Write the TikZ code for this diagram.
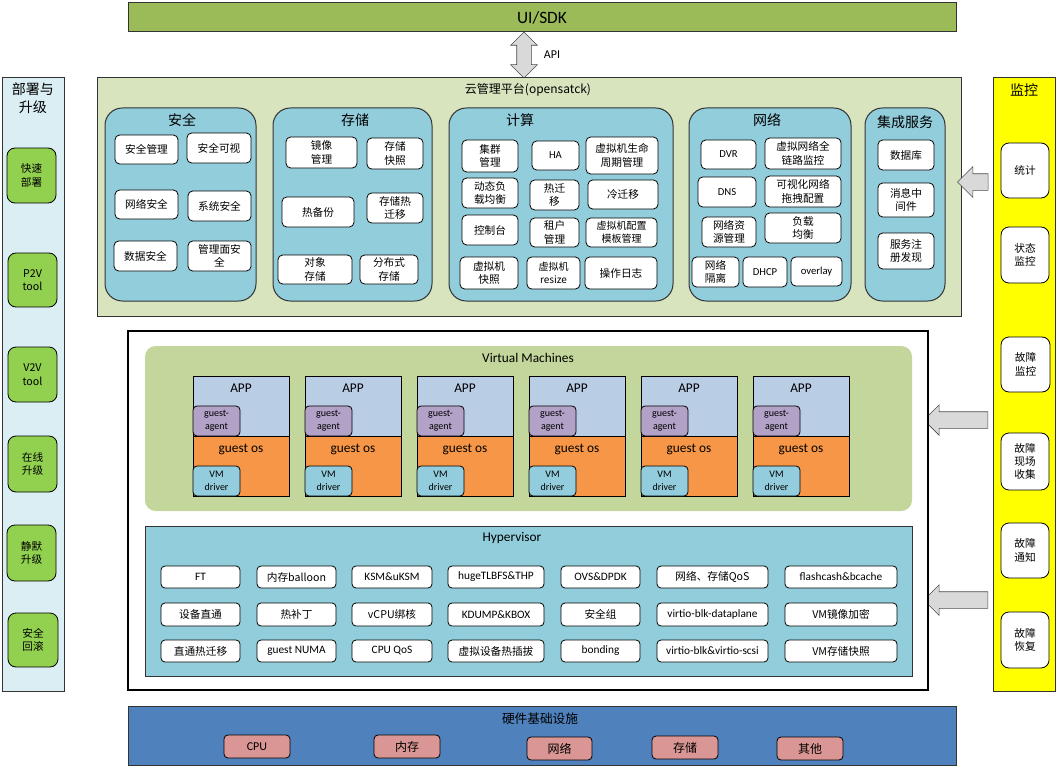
\documentclass[tikz,border=0pt]{standalone}
\usepackage{fontspec}
\setmainfont{Noto Sans CJK SC}
\newfontfamily\lat{Carlito}
\newcommand{\latb}{\lat\fontsize{8.5}{10}\selectfont}
\definecolor{uigreen}{HTML}{9BBB59}
\definecolor{cloudbg}{HTML}{D7E4BD}
\definecolor{grpblue}{HTML}{92CDDC}
\definecolor{deploybg}{HTML}{DAEEF3}
\definecolor{btngreen}{HTML}{92D050}
\definecolor{monyellow}{HTML}{FFFF00}
\definecolor{vmbg}{HTML}{C3D69B}
\definecolor{appblue}{HTML}{B9CDE5}
\definecolor{osorange}{HTML}{F79646}
\definecolor{agentpurple}{HTML}{B3A2C7}
\definecolor{drvblue}{HTML}{93CDDD}
\definecolor{hwblue}{HTML}{4F81BD}
\definecolor{hwpink}{HTML}{D99694}
\definecolor{arrgray}{HTML}{D9D9D9}
\usepackage{tikz}
\usetikzlibrary{positioning, shapes.arrows}
% box from corner (x1,y1) to corner (x2,y2), pixel units
\newcommand{\boxnode}[7]{\node[#1, minimum width={(#4-#2)*0.75pt}, minimum height={(#5-#3)*0.75pt}] (#6) at ({(#2+#4)/2},{(#3+#5)/2}) {#7};}

\begin{document}
\begin{tikzpicture}[x=0.75pt, y=-0.75pt, every node/.style={align=center, inner sep=1pt},
    panel/.style={draw=black!80, line width=0.75pt},
    grp/.style={draw=black!80, line width=0.75pt, fill=grpblue, rounded corners=13pt},
    item/.style={draw=black, line width=0.6pt, fill=white, rounded corners=3.5pt, font=\fontsize{8}{10}\selectfont},
    btn/.style={draw=black, line width=0.6pt, fill=btngreen, rounded corners=6pt, font=\fontsize{8}{10}\selectfont},
    monitem/.style={draw=black, line width=0.6pt, fill=white, rounded corners=6pt, font=\fontsize{8}{10}\selectfont},
    hwitem/.style={draw=black, line width=0.6pt, fill=hwpink, rounded corners=3pt, font=\fontsize{9}{11}\selectfont},
    ttl/.style={font=\fontsize{10.5}{13}\selectfont},
    vmpart/.style={draw=black, line width=0.6pt},
    vmsmall/.style={draw=black, line width=0.6pt, rounded corners=3pt, font=\lat\fontsize{7.5}{10}\selectfont},
    vmlabel/.style={font=\lat\fontsize{10}{12}\selectfont},
    hypitem/.style={draw=black, line width=0.6pt, fill=white, rounded corners=3pt, font=\fontsize{8}{9}\selectfont},
    sarr/.style={single arrow, shape border rotate=180, draw=black!70, fill=arrgray, inner xsep=0pt, inner ysep=6pt, single arrow head extend=5.25pt},
    darr/.style={double arrow, rotate=90, draw=black!70, fill=arrgray, inner xsep=0pt, inner ysep=5.25pt, double arrow head extend=4.5pt}]
\useasboundingbox (0,0) rectangle (1057,767);

% top: UI/SDK and API
\boxnode{panel, fill=uigreen, font=\lat\fontsize{13}{15}\selectfont}{128}{3}{956}{32}{ui}{UI/SDK}
\node[darr, minimum height=34.5pt] (api) at (524,55) {};
\node[font=\lat\fontsize{9}{11}\selectfont] (apit) at (552,55) {API};

% cloud management platform
\boxnode{panel, fill=cloudbg}{97}{78}{961}{316}{cloud}{}
\node[font=\fontsize{9}{11}\selectfont] (cloudt) at (528,90) {云管理平台(opensatck)};

\boxnode{grp}{105}{108}{256}{301}{sec}{}
\node[ttl] (sect) at (182,120) {安全};
\boxnode{item}{115}{135}{178}{164}{sec1}{安全管理}
\boxnode{item}{187}{133}{251}{163}{sec2}{安全可视}
\boxnode{item}{115}{190}{178}{219}{sec3}{网络安全}
\boxnode{item}{188}{191}{251}{221}{sec4}{系统安全}
\boxnode{item}{114}{241}{177}{271}{sec5}{数据安全}
\boxnode{item}{188}{241}{251}{271}{sec6}{管理面安\\全}

\boxnode{grp}{273}{108}{432}{301}{sto}{}
\node[ttl] (stot) at (355,120) {存储};
\boxnode{item}{286}{137}{357}{168}{sto1}{镜像\\管理}
\boxnode{item}{367}{138}{423}{169}{sto2}{存储\\快照}
\boxnode{item}{282}{197}{354}{227}{sto3}{热备份}
\boxnode{item}{367}{193}{423}{223}{sto4}{存储热\\迁移}
\boxnode{item}{278}{255}{352}{284}{sto5}{对象\\存储}
\boxnode{item}{360}{255}{418}{284}{sto6}{分布式\\存储}

\boxnode{grp}{449}{108}{673}{301}{cmp}{}
\node[ttl] (cmpt) at (520,120) {计算};
\boxnode{item}{462}{140}{518}{172}{cmp1}{集群\\管理}
\boxnode{item}{532}{141}{579}{170}{cmp2}{\lat HA}
\boxnode{item}{586}{137}{658}{174}{cmp3}{虚拟机生命\\周期管理}
\boxnode{item}{462}{178}{518}{208}{cmp4}{动态负\\载均衡}
\boxnode{item}{530}{180}{579}{210}{cmp5}{热迁\\移}
\boxnode{item}{588}{180}{658}{209}{cmp6}{冷迁移}
\boxnode{item}{462}{215}{518}{245}{cmp7}{控制台}
\boxnode{item}{530}{218}{579}{247}{cmp8}{租户\\管理}
\boxnode{item, font=\fontsize{7.5}{10}\selectfont}{586}{218}{657}{247}{cmp9}{虚拟机配置\\模板管理}
\boxnode{item}{460}{257}{518}{289}{cmp10}{虚拟机\\快照}
\boxnode{item, font=\fontsize{7.5}{10}\selectfont}{527}{257}{580}{289}{cmp11}{虚拟机\\resize}
\boxnode{item}{585}{257}{657}{289}{cmp12}{操作日志}

\boxnode{grp}{689}{108}{851}{301}{net}{}
\node[ttl] (nett) at (767,120) {网络};
\boxnode{item}{701}{140}{756}{169}{net1}{\lat DVR}
\boxnode{item}{765}{138}{841}{169}{net2}{虚拟网络全\\链路监控}
\boxnode{item}{698}{177}{756}{207}{net3}{\lat DNS}
\boxnode{item}{765}{176}{841}{207}{net4}{可视化网络\\拖拽配置}
\boxnode{item}{702}{217}{756}{247}{net5}{网络资\\源管理}
\boxnode{item}{765}{213}{841}{243}{net6}{负载\\均衡}
\boxnode{item}{692}{257}{739}{287}{net7}{网络\\隔离}
\boxnode{item}{743}{257}{787}{287}{net8}{\lat DHCP}
\boxnode{item}{791}{257}{842}{286}{net9}{\lat overlay}

\boxnode{grp}{865}{108}{945}{301}{int}{}
\node[ttl] (intt) at (905,122) {集成服务};
\boxnode{item}{878}{140}{934}{170}{int1}{数据库}
\boxnode{item}{878}{183}{934}{217}{int2}{消息中\\间件}
\boxnode{item}{878}{233}{934}{269}{int3}{服务注\\册发现}

% deploy and upgrade
\boxnode{panel, fill=deploybg}{2}{78}{64}{691}{deploy}{}
\node[ttl] (deployt) at (33,98) {部署与\\升级};
\boxnode{btn}{7}{148}{56}{203}{dep1}{快速\\部署}
\boxnode{btn}{8}{253}{57}{307}{dep2}{P2V\\tool}
\boxnode{btn}{8}{347}{57}{402}{dep3}{V2V\\tool}
\boxnode{btn}{8}{436}{57}{492}{dep4}{在线\\升级}
\boxnode{btn}{7}{525}{56}{581}{dep5}{静默\\升级}
\boxnode{btn}{8}{613}{58}{667}{dep6}{安全\\回滚}

% monitoring
\boxnode{panel, fill=monyellow}{993}{78}{1055}{691}{mon}{}
\node[ttl] (mont) at (1024,90) {监控};
\boxnode{monitem}{1001}{143}{1049}{198}{mon1}{统计}
\boxnode{monitem}{1001}{227}{1049}{283}{mon2}{状态\\监控}
\boxnode{monitem}{1001}{337}{1050}{392}{mon3}{故障\\监控}
\boxnode{monitem}{1001}{433}{1049}{490}{mon4}{故障\\现场\\收集}
\boxnode{monitem}{1001}{523}{1049}{578}{mon5}{故障\\通知}
\boxnode{monitem}{1001}{612}{1049}{668}{mon6}{故障\\恢复}
\node[sarr, minimum height=23pt] (arr1) at (977,182) {};
\node[sarr, minimum height=48pt] (arr2) at (960,420) {};
\node[sarr, minimum height=48pt] (arr3) at (960,600) {};

% host: virtual machines and hypervisor
\boxnode{draw=black, line width=1.5pt, fill=white}{128}{331}{928}{690}{host}{}
\boxnode{fill=vmbg, rounded corners=8pt}{145}{346}{912}{511}{vms}{}
\node[vmlabel] (vmst) at (528,358) {Virtual Machines};
\foreach \i in {0,...,5}{
  \pgfmathsetmacro{\xa}{193+112*\i}
  \pgfmathsetmacro{\xb}{\xa+96}
  \pgfmathsetmacro{\xc}{\xa+47}
  \boxnode{vmpart, fill=appblue}{\xa}{376}{\xb}{436}{app\i}{}
  \boxnode{vmpart, fill=osorange}{\xa}{436}{\xb}{496}{os\i}{}
  \node[vmlabel] (appt\i) at ({\xa+48},388) {APP};
  \node[vmlabel] (ost\i) at ({\xa+48},449) {guest os};
  \boxnode{vmsmall, fill=agentpurple}{\xa}{406}{\xc}{436}{ga\i}{guest-\\agent}
  \boxnode{vmsmall, fill=drvblue}{\xa}{466}{\xc}{496}{drv\i}{VM\\driver}
}

\boxnode{panel, fill=grpblue}{145}{526}{912}{676}{hyp}{}
\node[vmlabel] (hypt) at (512,538) {Hypervisor};
\foreach \xa/\xb/\t [count=\c] in {161/240/\latb FT, 257/336/内存balloon, 352/432/\latb KSM\&uKSM, 448/544/\latb hugeTLBFS\&THP, 561/640/\latb OVS\&DPDK, 657/768/网络、存储QoS, 785/897/\latb flashcash\&bcache}{
  \boxnode{hypitem}{\xa}{566}{\xb}{588}{hA\c}{\t}
}
\foreach \xa/\xb/\t [count=\c] in {161/240/设备直通, 257/336/热补丁, 352/432/vCPU绑核, 448/544/\latb KDUMP\&KBOX, 561/640/安全组, 657/768/\latb virtio-blk-dataplane, 785/897/VM镜像加密}{
  \boxnode{hypitem}{\xa}{603}{\xb}{626}{hB\c}{\t}
}
\foreach \xa/\xb/\t [count=\c] in {161/240/直通热迁移, 257/336/\latb guest NUMA, 352/432/\latb CPU QoS, 448/544/虚拟设备热插拔, 561/640/\latb bonding, 657/768/\latb virtio-blk\&virtio-scsi, 785/897/VM存储快照}{
  \boxnode{hypitem}{\xa}{640}{\xb}{662}{hC\c}{\t}
}

% hardware
\boxnode{panel, fill=hwblue}{128}{706}{956}{765}{hw}{}
\node[font=\fontsize{9.5}{11}\selectfont] (hwt) at (540,719) {硬件基础设施};
\boxnode{hwitem}{224}{735}{290}{758}{hw1}{\lat CPU}
\boxnode{hwitem}{374}{735}{440}{758}{hw2}{内存}
\boxnode{hwitem}{527}{737}{592}{760}{hw3}{网络}
\boxnode{hwitem}{652}{736}{718}{759}{hw4}{存储}
\boxnode{hwitem}{777}{737}{843}{760}{hw5}{其他}
\end{tikzpicture}
\end{document}
